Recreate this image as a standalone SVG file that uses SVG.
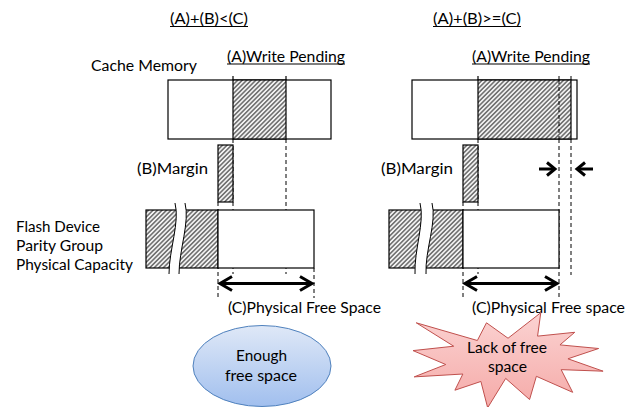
<svg xmlns="http://www.w3.org/2000/svg" width="639" height="407" viewBox="0 0 639 407">
  <style>
    text { font-family: Lato, "Liberation Sans", sans-serif; font-size: 15.5px; fill: #000; }
    .mid { text-anchor: middle; }
    .ul { stroke: #000; stroke-width: 1.1; }
    .box { stroke: #000; stroke-width: 1.2; }
    .hatch { fill: url(#hatch); }
    .white { fill: #fff; }
    .dash { stroke: #000; stroke-width: 1; stroke-dasharray: 4 3; fill: none; }
    .solid { stroke: #000; stroke-width: 1.2; fill: none; }
    .wave { stroke: #000; stroke-width: 1; fill: none; }
    .arrow { stroke: #000; stroke-width: 3; fill: none; stroke-linejoin: miter; }
  </style>
  <defs>
    <pattern id="hatch" width="3.2" height="3.2" patternUnits="userSpaceOnUse" patternTransform="rotate(45)">
      <rect width="3.2" height="3.2" fill="#f2f2f2"/>
      <line x1="0.8" y1="0" x2="0.8" y2="3.2" stroke="#737373" stroke-width="1.6"/>
    </pattern>
    <linearGradient id="blueFill" x1="0" y1="0" x2="0" y2="1">
      <stop offset="0" stop-color="#dfe8f7"/>
      <stop offset="1" stop-color="#a1bfee"/>
    </linearGradient>
    <linearGradient id="redFill" x1="0" y1="0" x2="0" y2="1">
      <stop offset="0" stop-color="#fbd3d2"/>
      <stop offset="1" stop-color="#f5aaa8"/>
    </linearGradient>
  </defs>

  <!-- headings -->
  <text x="170" y="24" textLength="78" lengthAdjust="spacingAndGlyphs">(A)+(B)&lt;(C)</text>
  <line x1="170" y1="26.5" x2="248" y2="26.5" class="ul"/>
  <text x="433" y="24" textLength="88" lengthAdjust="spacingAndGlyphs">(A)+(B)&gt;=(C)</text>
  <line x1="433" y1="26.5" x2="521" y2="26.5" class="ul"/>

  <!-- row labels -->
  <text x="91" y="71" textLength="106" lengthAdjust="spacingAndGlyphs">Cache Memory</text>
  <text x="16" y="231.5" textLength="84" lengthAdjust="spacingAndGlyphs">Flash Device</text>
  <text x="16" y="251" textLength="87" lengthAdjust="spacingAndGlyphs">Parity Group</text>
  <text x="16" y="270" textLength="117" lengthAdjust="spacingAndGlyphs">Physical Capacity</text>

  <!-- connectors: guide lines -->
  <g id="connectors">
    <!-- left case -->
    <line x1="233" y1="76" x2="233" y2="139" class="solid"/>
    <line x1="286" y1="76" x2="286" y2="139" class="solid"/>
    <line x1="218" y1="202" x2="218" y2="298" class="dash"/>
    <line x1="233" y1="139" x2="233" y2="274" class="dash"/>
    <line x1="286" y1="139" x2="286" y2="274" class="dash"/>
    <line x1="314" y1="268" x2="314" y2="298" class="dash"/>
    <!-- right case -->
    <line x1="478" y1="76" x2="478" y2="139" class="solid"/>
    <line x1="463" y1="202" x2="463" y2="298" class="dash"/>
    <line x1="478" y1="139" x2="478" y2="274" class="dash"/>
    <line x1="559" y1="76" x2="559" y2="298" class="dash"/>
    <line x1="571" y1="76" x2="571" y2="275" class="dash"/>
  </g>

  <!-- left: cache memory -->
  <g id="cache-left">
    <rect x="168" y="80" width="163" height="59" class="box white"/>
    <rect x="233" y="80" width="53" height="59" class="box hatch"/>
    <text x="227" y="61.5" textLength="118" lengthAdjust="spacingAndGlyphs">(A)Write Pending</text>
    <line x1="227" y1="64" x2="345" y2="64" class="ul"/>
  </g>

  <!-- left: margin -->
  <g id="margin-left">
    <rect x="218" y="145" width="15" height="57" class="box hatch"/>
    <text x="137" y="174" textLength="71" lengthAdjust="spacingAndGlyphs">(B)Margin</text>
  </g>

  <!-- left: flash parity group -->
  <g id="flash-left">
    <rect x="146" y="210" width="72" height="58" class="box hatch"/>
    <rect x="218" y="210" width="96" height="58" class="box white"/>
    <path d="M175,203 C180,222 169,250 169,274 L179,274 C179,250 190,222 185,203 Z" fill="#fff"/>
    <path d="M175,203 C180,222 169,250 169,274" class="wave"/>
    <path d="M185,203 C190,222 179,250 179,274" class="wave"/>
  </g>

  <!-- left: free space dimension -->
  <g id="free-left">
    <line x1="221" y1="283.5" x2="311" y2="283.5" class="arrow"/>
    <polyline points="232,276.5 220,283.5 232,290.5" class="arrow"/>
    <polyline points="300,276.5 312,283.5 300,290.5" class="arrow"/>
    <text x="228" y="313" textLength="153" lengthAdjust="spacingAndGlyphs">(C)Physical Free Space</text>
  </g>

  <!-- left: result -->
  <g id="result-enough">
    <ellipse cx="262" cy="366" rx="69" ry="40.5" fill="url(#blueFill)" stroke="#4f81bd" stroke-width="1"/>
    <text x="261.5" y="361" class="mid" textLength="51" lengthAdjust="spacingAndGlyphs">Enough</text>
    <text x="261" y="381" class="mid" textLength="72" lengthAdjust="spacingAndGlyphs">free space</text>
  </g>

  <!-- right: cache memory -->
  <g id="cache-right">
    <rect x="412" y="80" width="165" height="59" class="box white"/>
    <rect x="478" y="80" width="93" height="59" class="box hatch"/>
    <line x1="559" y1="80" x2="559" y2="139" class="dash"/>
    <text x="472" y="61.5" textLength="118" lengthAdjust="spacingAndGlyphs">(A)Write Pending</text>
    <line x1="472" y1="64" x2="590" y2="64" class="ul"/>
  </g>

  <!-- right: margin -->
  <g id="margin-right">
    <rect x="463" y="145" width="15" height="57" class="box hatch"/>
    <text x="381" y="174" textLength="72" lengthAdjust="spacingAndGlyphs">(B)Margin</text>
  </g>

  <!-- right: overflow indicator -->
  <g id="overflow">
    <line x1="539" y1="169" x2="554" y2="169" class="arrow"/>
    <polyline points="547,162.5 555,169 547,175.5" class="arrow"/>
    <line x1="578" y1="169" x2="593" y2="169" class="arrow"/>
    <polyline points="585,162.5 577,169 585,175.5" class="arrow"/>
  </g>

  <!-- right: flash parity group -->
  <g id="flash-right">
    <rect x="389" y="210" width="74" height="58" class="box hatch"/>
    <rect x="463" y="210" width="96" height="58" class="box white"/>
    <path d="M420,203 C425,222 414,250 415,274 L426,274 C425,250 437,222 432,203 Z" fill="#fff"/>
    <path d="M420,203 C425,222 414,250 415,274" class="wave"/>
    <path d="M432,203 C437,222 425,250 426,274" class="wave"/>
  </g>

  <!-- right: free space dimension -->
  <g id="free-right">
    <line x1="466" y1="283.5" x2="556" y2="283.5" class="arrow"/>
    <polyline points="477,276.5 465,283.5 477,290.5" class="arrow"/>
    <polyline points="545,276.5 557,283.5 545,290.5" class="arrow"/>
    <text x="472" y="313" textLength="153" lengthAdjust="spacingAndGlyphs">(C)Physical Free space</text>
  </g>

  <!-- right: result (explosion shape) -->
  <g id="result-lack">
    <path transform="translate(413,312.7) scale(0.0088,0.0044)" d="M10800,5800 L14522,0 L14155,5325 L18380,4457 L16702,7315 L21097,8137 L17607,10475 L21600,13290 L16837,12942 L18145,18095 L14020,14457 L13247,19737 L10532,14935 L8485,21600 L7715,15627 L4762,17617 L5667,13937 L135,14587 L3722,11775 L0,8615 L4627,7617 L370,2295 L7312,6320 L8352,2295 Z" fill="url(#redFill)" stroke="#c0504d" stroke-width="1" vector-effect="non-scaling-stroke"/>
    <text x="507" y="353" class="mid" textLength="80" lengthAdjust="spacingAndGlyphs">Lack of free</text>
    <text x="507.5" y="372" class="mid" textLength="39" lengthAdjust="spacingAndGlyphs">space</text>
  </g>
</svg>
